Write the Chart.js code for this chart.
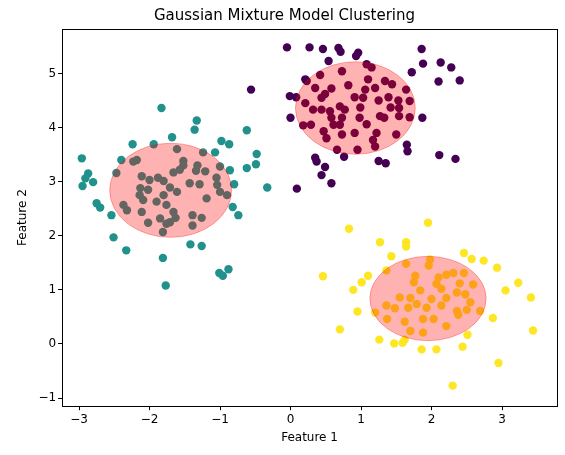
<!DOCTYPE html>
<html><head><meta charset="utf-8">
<script src="https://cdn.jsdelivr.net/npm/chart.js@4"></script>
<style>html,body{margin:0;padding:0;background:#fff}</style>
</head><body>
<canvas id="c" width="565" height="455"></canvas>
<script>
const xTicks=[-3,-2,-1,0,1,2,3];
const yTicks=[-1,0,1,2,3,4,5];
const clusterTeal=[[-1.83,4.36],[-1.33,4.13],[-1.36,3.96],[-0.62,3.95],[-1.68,3.82],[-2.24,3.69],[-1.94,3.69],[-0.98,3.75],[-0.87,3.69],[-2.96,3.43],[-2.40,3.40],[-2.18,3.40],[-1.07,3.54],[-0.48,3.51],[-0.49,3.32],[-0.62,3.25],[-2.87,3.15],[-2.47,3.16],[-2.91,3.06],[-2.95,2.92],[-2.80,2.99],[-0.33,2.89],[-2.75,2.60],[-2.70,2.52],[-2.54,2.38],[-0.82,2.53],[-0.74,2.38],[-2.51,1.97],[-2.33,1.73],[-1.42,1.84],[-1.26,1.81],[-1.81,1.59],[-1.01,1.31],[-0.88,1.38],[-0.96,1.26],[-1.77,1.08],
[-1.61,3.60],[-1.24,3.54],[-1.52,3.38],[-1.52,3.30],[-1.32,3.30],[-1.00,3.28],[-0.86,3.21],[-2.23,3.37],[-2.11,3.10],[-2.00,3.03],[-1.88,3.07],[-1.80,3.01],[-1.66,3.17],[-1.57,3.22],[-1.34,3.20],[-1.21,3.19],[-1.43,2.97],[-1.29,2.95],[-1.05,3.07],[-1.04,2.94],[-0.80,2.95],[-2.13,2.88],[-2.02,2.85],[-2.14,2.75],[-2.09,2.66],[-1.71,2.89],[-1.61,2.81],[-1.80,2.75],[-1.90,2.63],[-1.76,2.57],[-2.37,2.57],[-2.32,2.47],[-2.11,2.44],[-1.00,2.81],[-0.90,2.75],[-1.19,2.69],[-1.66,2.44],[-1.63,2.33],[-1.85,2.32],[-2.02,2.24],[-1.76,2.22],[-1.39,2.38],[-1.26,2.33],[-1.39,2.19],[-1.81,2.07],[-1.71,2.25]];
const clusterPurple=[[-0.05,5.48],[0.27,5.48],[0.46,5.45],[0.68,5.47],[0.71,5.40],[0.96,5.38],[0.93,5.32],[0.54,5.23],[1.86,5.45],[1.88,5.18],[2.13,5.20],[2.28,5.11],[1.72,5.02],[2.10,4.85],[2.40,4.87],[0.21,4.89],[-0.01,4.58],[0.08,4.56],[0.00,4.18],[1.87,4.18],[1.65,3.68],[1.66,3.56],[2.11,3.49],[2.34,3.42],[0.35,3.44],[0.37,3.37],[0.49,3.27],[0.44,3.12],[0.76,3.46],[1.25,3.38],[1.35,3.34],[0.58,2.97],[0.09,2.87],[-0.56,4.70],
[1.08,5.17],[1.15,5.11],[0.73,5.04],[0.42,4.97],[0.23,4.86],[1.10,4.89],[1.34,4.86],[1.44,4.80],[1.64,4.70],[0.82,4.78],[0.58,4.72],[0.49,4.62],[0.35,4.73],[0.21,4.45],[0.44,4.55],[0.91,4.56],[1.03,4.55],[1.20,4.73],[1.06,4.70],[1.25,4.50],[1.39,4.56],[1.53,4.50],[1.69,4.49],[1.42,4.37],[1.54,4.36],[0.32,4.33],[0.44,4.33],[0.56,4.30],[0.70,4.39],[0.77,4.33],[0.58,4.18],[0.73,4.18],[0.99,4.37],[0.98,4.18],[1.08,4.06],[1.27,4.21],[1.33,4.18],[1.54,4.21],[1.69,4.19],[0.18,4.04],[0.29,4.05],[0.47,3.93],[0.51,3.80],[0.73,3.87],[0.91,3.90],[1.22,3.90],[1.17,3.77],[1.20,3.65],[1.50,3.87],[0.95,3.59],[0.66,3.59],[0.61,4.05],[0.70,4.05]];
const clusterYellow=[[0.83,2.13],[1.95,2.24],[1.27,1.88],[1.64,1.88],[1.64,1.80],[1.43,1.62],[2.46,1.68],[2.57,1.57],[2.74,1.54],[2.93,1.41],[3.23,1.13],[3.05,0.99],[3.41,0.86],[0.46,1.25],[0.89,1.00],[1.01,1.14],[1.10,1.26],[0.95,0.60],[0.70,0.27],[2.87,0.48],[3.44,0.25],[2.51,0.17],[1.26,0.08],[1.47,0.01],[1.59,0.02],[1.62,0.08],[1.86,-0.10],[2.07,-0.10],[2.44,-0.05],[2.95,-0.35],[2.30,-0.77],
[1.64,1.48],[1.98,1.56],[1.96,1.45],[1.36,1.36],[1.77,1.26],[2.10,1.23],[2.31,1.31],[2.21,1.28],[2.46,1.31],[1.75,1.14],[2.07,1.11],[2.40,1.12],[2.59,1.10],[1.84,0.99],[2.14,1.02],[2.36,0.95],[2.48,0.92],[1.70,0.85],[2.00,0.83],[2.21,0.85],[2.55,0.77],[1.36,0.71],[1.48,0.66],[1.67,0.67],[1.79,0.74],[1.93,0.67],[2.14,0.71],[2.36,0.61],[2.50,0.63],[2.69,0.61],[1.20,0.58],[1.37,0.46],[1.62,0.41],[1.88,0.46],[2.03,0.46],[1.70,0.24],[1.88,0.21],[2.21,0.33],[2.38,0.54],[1.55,0.86]];
const ellipses=[{cx:-1.70,cy:2.84,rx:0.865,ry:0.87},{cx:0.92,cy:4.36,rx:0.85,ry:0.855},{cx:1.95,cy:0.84,rx:0.825,ry:0.78}];
const toPts=a=>a.map(p=>({x:p[0],y:p[1]}));
const ellPlugin={id:'ell',afterDatasetsDraw(ch){const c=ch.ctx,xs=ch.scales.x,ys=ch.scales.y;c.save();
ellipses.forEach(e=>{const px=xs.getPixelForValue(e.cx),py=ys.getPixelForValue(e.cy);
const rx=Math.abs(xs.getPixelForValue(e.cx+e.rx)-px),ry=Math.abs(ys.getPixelForValue(e.cy+e.ry)-py);
c.beginPath();c.ellipse(px,py,rx,ry,0,0,Math.PI*2);c.fillStyle='rgba(255,0,0,0.3)';c.fill();c.strokeStyle='rgba(255,0,0,0.3)';c.lineWidth=1;c.stroke();});
const a=ch.chartArea;c.strokeStyle='#000';c.lineWidth=1;c.strokeRect(Math.round(a.left)+0.5,Math.round(a.top)+0.5,Math.round(a.right-a.left),Math.round(a.bottom-a.top));c.restore();}};
const ds=(d,col)=>({data:toPts(d),backgroundColor:col,borderWidth:0,pointRadius:4.2,pointHoverRadius:4.2});
new Chart(document.getElementById('c'),{type:'scatter',
data:{datasets:[ds(clusterTeal,'#21918c'),ds(clusterPurple,'#440154'),ds(clusterYellow,'#fde725')]},
plugins:[ellPlugin],
options:{responsive:false,devicePixelRatio:1,animation:false,
layout:{padding:{left:12,right:8,top:3,bottom:6}},
plugins:{legend:{display:false},tooltip:{enabled:false},
title:{display:true,text:'Gaussian Mixture Model Clustering',color:'#000',font:{family:'DejaVu Sans',size:15,weight:'normal'},padding:{top:4,bottom:4}}},
scales:{
x:{type:'linear',min:-3.24,max:3.78,afterBuildTicks:s=>{s.ticks=xTicks.map(v=>({value:v}));},
grid:{drawOnChartArea:false,tickLength:4,color:'#000'},border:{color:'#000'},
ticks:{color:'#000',font:{family:'DejaVu Sans',size:12},padding:2,callback:v=>v<0?'\u2212'+Math.abs(v):String(v)},
title:{display:true,text:'Feature 1',color:'#000',font:{family:'DejaVu Sans',size:12},padding:{top:2}}},
y:{type:'linear',min:-1.15,max:5.82,afterBuildTicks:s=>{s.ticks=yTicks.map(v=>({value:v}));},
grid:{drawOnChartArea:false,tickLength:4,color:'#000'},border:{color:'#000'},
ticks:{color:'#000',font:{family:'DejaVu Sans',size:12},padding:2,callback:v=>v<0?'\u2212'+Math.abs(v):String(v)},
title:{display:true,text:'Feature 2',color:'#000',font:{family:'DejaVu Sans',size:12},padding:{bottom:6}}}}}});
</script></body></html>
